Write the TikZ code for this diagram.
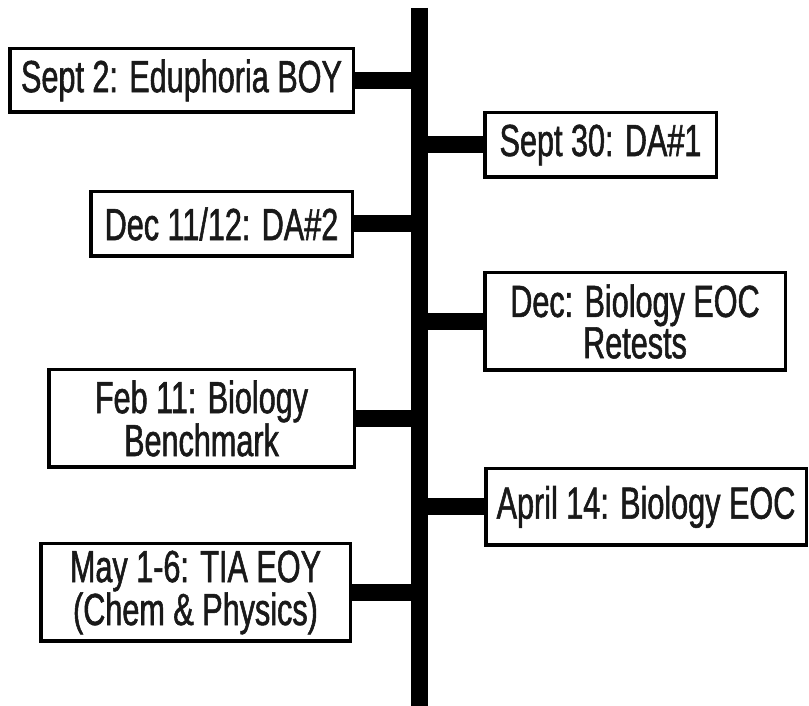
\documentclass[tikz,border=0pt]{standalone}
\usepackage{fontspec}
\setmainfont{Liberation Sans}[FakeStretch=0.68,FakeBold=1.2]
\begin{document}
\begin{tikzpicture}[x=1pt,y=1pt,
  evbox/.style={draw=black,line width=3.5pt,fill=white,inner sep=0pt,align=center,
    font=\fontsize{45}{40}\selectfont,text=black!90},
  conn/.style={line width=17pt,black},
  spine/.style={line width=17pt,black}]
\useasboundingbox[fill=white] (0,0) rectangle (809,706);
\coordinate (top) at (419,698);
\coordinate (bot) at (419,0);
\draw[spine] (top) -- (bot);
\node[evbox,minimum width=343.5pt,minimum height=63.5pt] (b1) at (181.5,625.5) {Sept 2: Eduphoria BOY};
\node[evbox,minimum width=231.5pt,minimum height=64.5pt] (b2) at (600.5,561) {Sept 30: DA\#1};
\node[evbox,minimum width=261.5pt,minimum height=64.5pt] (b3) at (221.5,482) {Dec 11/12: DA\#2};
\node[evbox,minimum width=300.5pt,minimum height=97.5pt] (b4) at (635,384.5) {Dec: Biology EOC\\Retests};
\node[evbox,minimum width=305.5pt,minimum height=97.5pt] (b5) at (201.5,287.5) {Feb 11: Biology\\Benchmark};
\node[evbox,minimum width=320.5pt,minimum height=76.5pt] (b6) at (646,199) {April 14: Biology EOC};
\node[evbox,minimum width=309.5pt,minimum height=97.5pt] (b7) at (195.5,113.5) {May 1-6: TIA EOY\\(Chem \& Physics)};
\foreach \b in {b1,b2,b3,b4,b5,b6,b7}
  \draw[conn] (\b) -- (\b -| top);
\end{tikzpicture}
\end{document}
